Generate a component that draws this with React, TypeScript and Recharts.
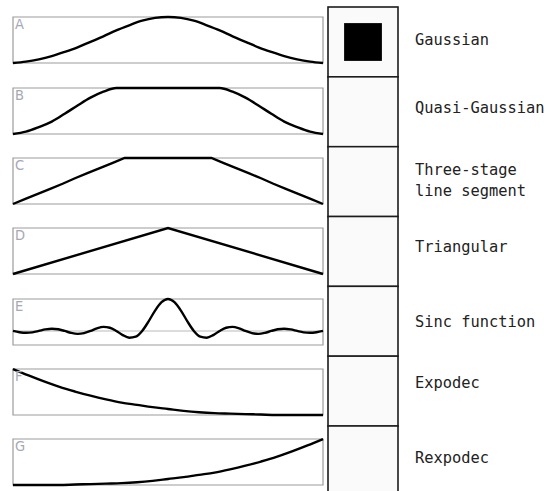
import { LineChart, Line, XAxis, YAxis, ReferenceArea, ReferenceLine, BarChart, Bar } from 'recharts';

const gaussian = [0, 0.03, 0.08, 0.15, 0.24, 0.34, 0.46, 0.58, 0.71, 0.82, 0.92, 0.98, 1, 0.98, 0.92, 0.82, 0.71, 0.58, 0.46, 0.34, 0.24, 0.15, 0.08, 0.03, 0];
const quasiGaussian = [0, 0.05, 0.15, 0.27, 0.44, 0.62, 0.79, 0.92, 1, 1, 1, 1, 1, 1, 1, 1, 1, 0.92, 0.79, 0.62, 0.44, 0.27, 0.15, 0.05, 0];
const threeStage = [0, 0.11, 0.22, 0.33, 0.44, 0.56, 0.67, 0.78, 0.89, 1, 1, 1, 1, 1, 1, 1, 1, 0.89, 0.78, 0.67, 0.56, 0.44, 0.33, 0.22, 0.11, 0];
const triangular = [0, 1, 0];
const sinc = [
  0, -0.039, -0.058, -0.043, 0, 0.047, 0.071, 0.053, 0, -0.06, -0.091, -0.069, 0, 0.082, 0.127, 0.1, 0, -0.129, -0.212, -0.18, 0, 0.3, 0.637, 0.9,
  1,
  0.9, 0.637, 0.3, 0, -0.18, -0.212, -0.129, 0, 0.1, 0.127, 0.082, 0, -0.069, -0.091, -0.06, 0, 0.053, 0.071, 0.047, 0, -0.043, -0.058, -0.039, 0,
];
const expodec = [1, 0.86, 0.73, 0.61, 0.51, 0.42, 0.34, 0.27, 0.22, 0.17, 0.13, 0.09, 0.06, 0.04, 0.03, 0.02, 0.01, 0, 0, 0, 0];
const rexpodec = [0, 0, 0, 0, 0.01, 0.02, 0.03, 0.04, 0.06, 0.09, 0.13, 0.17, 0.22, 0.27, 0.34, 0.42, 0.51, 0.61, 0.73, 0.86, 1];

const panelLetters = ['A', 'B', 'C', 'D', 'E', 'F', 'G'];
const shapeNames = ['Gaussian', 'Quasi-Gaussian', 'Three-stage\nline segment', 'Triangular', 'Sinc function', 'Expodec', 'Rexpodec'];
const selectedShape = 'Gaussian';

const panels = [
  { values: gaussian, min: 0, smooth: true },
  { values: quasiGaussian, min: 0, smooth: true },
  { values: threeStage, min: 0, smooth: false },
  { values: triangular, min: 0, smooth: false },
  { values: sinc, min: -0.44, smooth: true },
  { values: expodec, min: 0, smooth: true },
  { values: rexpodec, min: 0, smooth: true },
];

// small vertical nudges so each name sits where it does in the original
const LABEL_DY = [-3, -4.6, -1.6, -5.2, -0.3, -8.2, -3.7];

const PAD = 6;
const PANEL_W = 310;
const PANEL_H = 46;
const ROW = 69.83;

function ShapePanel({ letter, values, min, smooth, top }: { letter: string; values: number[]; min: number; smooth: boolean; top: number }) {
  const data = values.map((v, i) => ({ i, v }));
  return (
    <div style={{ position: 'absolute', left: 13 - PAD, top: top - PAD }}>
      <LineChart width={PANEL_W + PAD * 2} height={PANEL_H + PAD * 2} data={data} margin={{ top: PAD, right: PAD, bottom: PAD, left: PAD }}>
        <XAxis dataKey="i" hide />
        <YAxis type="number" domain={[min, 1]} hide />
        <ReferenceArea
          x1={0}
          x2={data.length - 1}
          y1={min}
          y2={1}
          ifOverflow="visible"
          fill="none"
          stroke="#9c9c9c"
          strokeWidth={1.2}
          label={{ value: letter, position: 'insideTopLeft', offset: 2, fill: '#a6a8b4', fontSize: 14.5, fontFamily: "'DejaVu Sans Condensed', 'Liberation Sans Narrow', 'DejaVu Sans', sans-serif" }}
        />
        {min < 0 && <ReferenceLine y={0} stroke="#dcdcdc" strokeWidth={2} />}
        <Line
          dataKey="v"
          type={smooth ? 'monotone' : 'linear'}
          stroke="#000"
          strokeWidth={2.4}
          dot={false}
          isAnimationActive={false}
        />
      </LineChart>
    </div>
  );
}

const CellShape = (props: any) => {
  const { x, y, width, height, payload } = props;
  const side = Math.min(width, height) * 0.54;
  return (
    <g>
      <rect x={x} y={y} width={width} height={height} fill="#fafafa" stroke="#1c1c1c" strokeWidth={1.6} />
      {payload.chosen && (
        <rect x={x + (width - side) / 2} y={y + (height - side) / 2} width={side} height={side} fill="#000" />
      )}
    </g>
  );
};

const NameTick = (props: any) => {
  const { x, y, payload, index } = props;
  const lines = String(payload.value).split('\n');
  const lh = 20.7;
  const first = y + (LABEL_DY[index] ?? 0) - ((lines.length - 1) * lh) / 2 + 5.6;
  return (
    <text x={x} y={first} textAnchor="start" fill="#222" fontSize={15.4} fontFamily="'DejaVu Sans Mono', monospace">
      {lines.map((l, i) => (
        <tspan key={i} x={x} y={first + i * lh}>
          {l}
        </tspan>
      ))}
    </text>
  );
};

export default function App() {
  const cells = shapeNames.map((name) => ({ name, cell: 1, chosen: name === selectedShape }));
  return (
    <div style={{ position: 'absolute', left: 0, top: 0, width: 554, height: 491, overflow: 'hidden', background: '#fff' }}>
      {panels.map((p, i) => (
        <ShapePanel key={i} letter={panelLetters[i]} values={p.values} min={p.min} smooth={p.smooth} top={17.3 + 70.33 * i} />
      ))}
      <div style={{ position: 'absolute', left: 326, top: 4.7 }}>
        <BarChart
          layout="vertical"
          width={228}
          height={2 + ROW * 7}
          data={cells}
          margin={{ top: 2, right: 0, bottom: 0, left: 2 }}
          barCategoryGap={0}
        >
          <XAxis type="number" domain={[0, 1]} hide />
          <YAxis
            type="category"
            dataKey="name"
            orientation="right"
            width={156}
            axisLine={false}
            tickLine={false}
            tickSize={0}
            tickMargin={17}
            interval={0}
            tick={NameTick}
          />
          <Bar dataKey="cell" shape={CellShape} isAnimationActive={false} />
        </BarChart>
      </div>
    </div>
  );
}
